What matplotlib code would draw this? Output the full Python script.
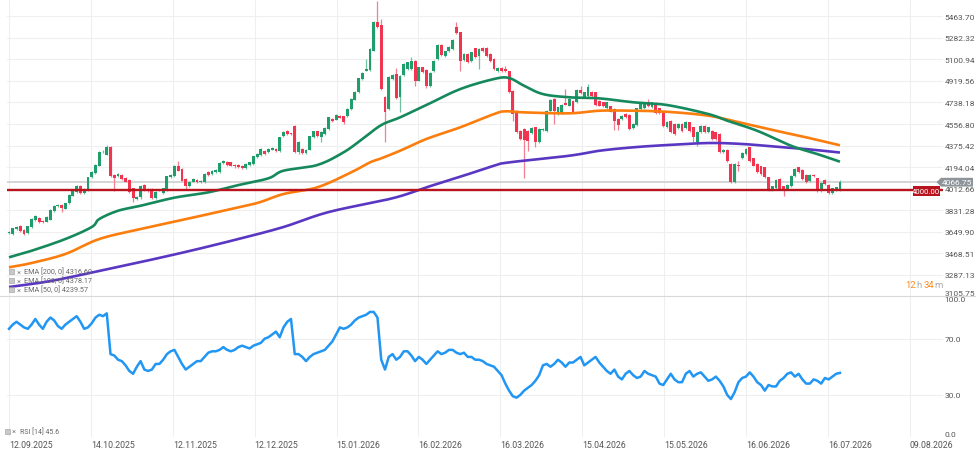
import matplotlib
matplotlib.use('Agg')
import matplotlib.pyplot as plt
import numpy as np
from matplotlib.patches import Polygon, Rectangle
from matplotlib.lines import Line2D

plt.rcParams['font.family'] = ['Roboto', 'DejaVu Sans']

# ---------------- data ----------------
opens = [3640, 3635, 3675, 3695, 3668, 3636, 3690, 3745, 3770, 3743,
         3735, 3749, 3827, 3868, 3875, 3845, 3889, 3954, 3982, 4038,
         3976, 4000, 4108, 4144, 4206, 4318, 4300, 4360, 4127, 4122,
         4127, 4100, 4088, 4015, 3925, 3939, 4043, 4010, 4010, 3931,
         4006, 3976, 3996, 4108, 4122, 4206, 4178, 4094, 4032, 4071,
         4088, 4066, 4066, 4150, 4136, 4150, 4150, 4228, 4240, 4234,
         4212, 4212, 4206, 4184, 4212, 4220, 4276, 4296, 4332, 4318,
         4340, 4346, 4332, 4453, 4500, 4478, 4543, 4324, 4346, 4313,
         4341, 4445, 4495, 4445, 4473, 4515, 4599, 4593, 4627, 4621,
         4621, 4683, 4762, 4829, 4936, 5006, 5011, 5174, 5418, 5390,
         4781, 4683, 4936, 4978, 4781, 4969, 5020, 5020, 5090, 4922,
         5034, 5011, 4873, 5000, 5104, 5224, 5132, 5168, 5188, 5376,
         5328, 5096, 5150, 5084, 5193, 5132, 5196, 5196, 5150, 5104,
         5000, 5028, 5020, 5000, 4837, 4669, 4500, 4514, 4500, 4478,
         4528, 4402, 4505, 4500, 4669, 4767, 4641, 4646, 4730, 4711,
         4753, 4739, 4846, 4781, 4790, 4829, 4823, 4753, 4739, 4689,
         4706, 4683, 4599, 4599, 4641, 4633, 4520, 4548, 4683, 4689,
         4739, 4697, 4734, 4689, 4661, 4529, 4585, 4557, 4520, 4557,
         4520, 4571, 4529, 4402, 4487, 4543, 4487, 4500, 4487, 4473,
         4323, 4341, 4220, 4066, 4212, 4268, 4304, 4360, 4268, 4220,
         4200, 4192, 4108, 4004, 4015, 4094, 4032, 4010, 4032, 4122,
         4192, 4172, 4127, 4080, 4127, 4099, 3996, 4088, 4043, 3976,
         4004, 4004]
highs = [3660, 3685, 3700, 3705, 3675, 3700, 3765, 3790, 3775, 3750,
         3785, 3840, 3875, 3885, 3880, 3895, 3965, 4000, 4045, 4045,
         4015, 4112, 4158, 4218, 4330, 4340, 4380, 4372, 4135, 4145,
         4135, 4108, 4095, 4020, 3950, 4045, 4050, 4015, 4015, 3990,
         4012, 4020, 4122, 4135, 4212, 4248, 4185, 4100, 4078, 4100,
         4095, 4088, 4142, 4158, 4170, 4178, 4235, 4255, 4248, 4240,
         4218, 4218, 4212, 4226, 4240, 4290, 4310, 4352, 4340, 4352,
         4360, 4352, 4450, 4500, 4510, 4485, 4550, 4410, 4352, 4348,
         4460, 4500, 4500, 4495, 4528, 4620, 4605, 4640, 4633, 4627,
         4690, 4773, 4835, 4948, 4992, 5104, 5195, 5425, 5595, 5440,
         4790, 4958, 4976, 5025, 4970, 5068, 5082, 5118, 5098, 5040,
         5040, 5018, 4992, 5098, 5230, 5232, 5175, 5210, 5270, 5412,
         5335, 5152, 5158, 5166, 5200, 5195, 5203, 5203, 5158, 5112,
         5035, 5035, 5045, 5006, 4845, 4675, 4508, 4520, 4508, 4530,
         4535, 4520, 4523, 4675, 4765, 4773, 4703, 4726, 4851, 4773,
         4760, 4852, 4874, 4830, 4894, 4835, 4830, 4760, 4745, 4745,
         4712, 4690, 4605, 4633, 4648, 4640, 4563, 4695, 4740, 4745,
         4767, 4745, 4740, 4695, 4668, 4582, 4592, 4563, 4563, 4563,
         4582, 4578, 4535, 4500, 4550, 4550, 4536, 4506, 4494, 4480,
         4348, 4348, 4226, 4226, 4248, 4320, 4352, 4366, 4275, 4226,
         4206, 4198, 4114, 4038, 4094, 4100, 4038, 4050, 4128, 4185,
         4198, 4178, 4134, 4134, 4134, 4106, 4066, 4094, 4050, 4022,
         4030, 4085]
lows = [3630, 3625, 3668, 3650, 3625, 3630, 3685, 3740, 3720, 3725,
        3730, 3745, 3820, 3860, 3820, 3840, 3885, 3950, 3975, 3970,
        3965, 3995, 4100, 4140, 4200, 4310, 4295, 4115, 3996, 4110,
        4088, 4065, 3975, 3897, 3915, 3930, 3990, 3985, 3925, 3925,
        3995, 3970, 3990, 4100, 4115, 4158, 4075, 4010, 4025, 4065,
        4060, 4060, 4060, 4120, 4130, 4145, 4145, 4220, 4205, 4200,
        4185, 4186, 4178, 4178, 4205, 4215, 4270, 4290, 4298, 4310,
        4335, 4320, 4325, 4445, 4465, 4465, 4310, 4304, 4305, 4305,
        4335, 4440, 4448, 4408, 4468, 4510, 4575, 4588, 4605, 4560,
        4615, 4678, 4755, 4822, 4930, 5000, 5005, 5168, 5365, 4845,
        4402, 4675, 4930, 4765, 4655, 4962, 5014, 5014, 4879, 4915,
        4990, 4860, 4866, 4992, 5098, 5132, 5125, 5160, 5180, 5312,
        5000, 5090, 5068, 5078, 5110, 5020, 5160, 5125, 5082, 5012,
        4992, 4998, 4992, 4815, 4580, 4480, 4422, 4102, 4332, 4470,
        4360, 4395, 4498, 4493, 4660, 4557, 4635, 4640, 4713, 4705,
        4648, 4732, 4810, 4775, 4783, 4788, 4710, 4705, 4700, 4683,
        4655, 4509, 4509, 4592, 4606, 4508, 4513, 4540, 4677, 4683,
        4700, 4690, 4643, 4643, 4536, 4522, 4480, 4466, 4513, 4494,
        4513, 4494, 4408, 4374, 4480, 4480, 4480, 4423, 4423, 4310,
        4310, 4240, 4058, 4058, 4164, 4262, 4298, 4240, 4200, 4143,
        4129, 4100, 3990, 3997, 4008, 4003, 3948, 4003, 4025, 4115,
        4148, 4087, 4059, 4073, 4109, 3989, 3989, 4045, 3965, 3965,
        3997, 3997]
closes = [3650, 3678, 3690, 3660, 3635, 3695, 3757, 3780, 3729, 3735,
          3777, 3833, 3869, 3878, 3852, 3889, 3959, 3996, 4038, 3976,
          4010, 4108, 4150, 4212, 4324, 4322, 4360, 4122, 4100, 4136,
          4094, 4071, 3982, 3931, 3939, 4038, 3996, 3996, 3931, 3982,
          4000, 4015, 4116, 4127, 4206, 4164, 4080, 4038, 4071, 4094,
          4066, 4080, 4136, 4127, 4164, 4170, 4228, 4248, 4212, 4206,
          4200, 4192, 4184, 4220, 4234, 4285, 4304, 4346, 4304, 4346,
          4352, 4327, 4444, 4492, 4473, 4470, 4318, 4402, 4313, 4341,
          4453, 4495, 4453, 4487, 4520, 4613, 4580, 4633, 4610, 4576,
          4683, 4767, 4829, 4941, 4986, 5020, 5188, 5418, 5370, 4851,
          4655, 4950, 4969, 4773, 4964, 5062, 5076, 5090, 4922, 5034,
          4997, 4879, 4986, 5090, 5224, 5140, 5168, 5202, 5264, 5320,
          5090, 5146, 5076, 5160, 5118, 5188, 5168, 5132, 5090, 5020,
          5028, 5006, 5000, 4823, 4641, 4487, 4430, 4422, 4416, 4522,
          4402, 4514, 4517, 4669, 4758, 4669, 4697, 4720, 4720, 4767,
          4655, 4846, 4818, 4823, 4866, 4795, 4717, 4711, 4706, 4739,
          4661, 4585, 4548, 4627, 4613, 4515, 4557, 4689, 4734, 4739,
          4706, 4739, 4650, 4650, 4543, 4576, 4487, 4473, 4557, 4501,
          4576, 4501, 4445, 4492, 4543, 4487, 4529, 4430, 4430, 4318,
          4341, 4248, 4066, 4220, 4200, 4313, 4346, 4248, 4206, 4150,
          4136, 4108, 4004, 4032, 4088, 4010, 3996, 4043, 4122, 4178,
          4155, 4094, 4066, 4127, 4116, 3996, 4060, 4052, 3976, 4015,
          4024, 4066.75]

rsi = [77, 80, 82, 80, 78, 77, 80, 84, 80, 77,
       82, 85, 83, 79, 77, 80, 82, 84, 86, 82,
       77, 78, 81, 85, 87, 86, 88, 59, 58, 55,
       54, 51, 47, 45, 50, 54, 48, 47, 48, 52,
       52, 55, 59, 61, 62, 57, 52, 48, 50, 52,
       54, 54, 57, 60, 61, 61, 62, 64, 62, 61,
       62, 64, 65, 64, 63, 65, 66, 67, 70, 71,
       73, 75, 71, 78, 82, 84, 59, 59, 57, 54,
       57, 59, 60, 61, 62, 65, 68, 73, 78, 77,
       78, 80, 83, 85, 86, 87, 89, 89, 85, 55,
       48, 57, 59, 55, 57, 61, 61, 58, 54, 57,
       55, 52, 55, 58, 61, 59, 60, 62, 62, 60,
       59, 60, 57, 57, 55, 55, 54, 52, 51, 50,
       47, 44, 38, 33, 29, 28, 30, 33, 35, 37,
       40, 44, 51, 52, 50, 52, 55, 53, 50, 53,
       53, 55, 57, 51, 53, 55, 57, 53, 50, 47,
       45, 48, 43, 41, 45, 47, 44, 42, 43, 47,
       45, 44, 43, 38, 37, 41, 45, 41, 39, 39,
       45, 47, 43, 45, 46, 43, 40, 41, 43, 40,
       36, 30, 27, 32, 39, 42, 43, 46, 43, 39,
       37, 33, 37, 36, 36, 40, 42, 45, 46, 43,
       45, 41, 38, 38, 41, 40, 38, 42, 41, 43,
       45, 45.6]

# EMA values read at candle indices
ema50_at = [0, 6, 15, 22, 24, 29, 35, 44, 53, 61, 69, 73, 82, 89, 94, 99, 104,
            111, 120, 129, 133, 137, 142, 149, 157, 166, 175, 186, 191, 199, 208, 215, 221]
ema50 = [3435, 3490, 3589, 3690, 3757, 3827, 3869, 3937, 3982, 4043, 4100, 4164,
         4212, 4319, 4431, 4548, 4613, 4717, 4851, 4936, 4944, 4879, 4809, 4782,
         4773, 4740, 4717, 4641, 4585, 4500, 4374, 4304, 4240]
ema100_at = [0, 6, 15, 24, 35, 48, 57, 66, 73, 82, 91, 96, 99, 104, 111, 120, 129,
             132, 137, 149, 157, 166, 175, 186, 195, 204, 212, 221]
ema100 = [3351, 3387, 3463, 3589, 3673, 3763, 3827, 3892, 3968, 4024, 4150, 4234,
          4268, 4332, 4431, 4529, 4641, 4664, 4655, 4647, 4669, 4669, 4660, 4627,
          4565, 4500, 4445, 4378]
ema200_at = [0, 11, 24, 35, 48, 61, 73, 85, 102, 111, 120, 129, 133, 149, 157, 166,
             175, 186, 195, 204, 212, 221]
ema200 = [3185, 3235, 3320, 3395, 3488, 3589, 3690, 3816, 3932, 4024, 4113, 4206,
          4234, 4290, 4332, 4361, 4380, 4397, 4389, 4366, 4346, 4317]

price_ticks = [5463.70, 5282.32, 5100.94, 4919.56, 4738.18, 4556.80, 4375.42,
               4194.04, 4012.66, 3831.28, 3649.90, 3468.51, 3287.13, 3105.75]
rsi_ticks = [100.0, 70.0, 30.0, 0.0]
date_labels = ['12.09.2025', '14.10.2025', '12.11.2025', '12.12.2025', '15.01.2026',
               '16.02.2026', '16.03.2026', '15.04.2026', '15.05.2026', '16.06.2026',
               '16.07.2026', '09.08.2026']
support_level = 4000.0
legend_labels = ['EMA [200, 0] 4316.60', 'EMA [100, 0] 4378.17', 'EMA [50, 0] 4239.57']
rsi_label = 'RSI [14] 45.6'


def smooth_curve(xs, ys, per=12):
    """Catmull-Rom rendering of a line through the read points."""
    xs = np.asarray(xs, float); ys = np.asarray(ys, float)
    P = np.column_stack([xs, ys])
    P = np.vstack([2 * P[0] - P[1], P, 2 * P[-1] - P[-2]])
    out = []
    t = np.linspace(0, 1, per, endpoint=False)[:, None]
    for i in range(1, len(P) - 2):
        p0, p1, p2, p3 = P[i - 1], P[i], P[i + 1], P[i + 2]
        seg = 0.5 * ((2 * p1) + (-p0 + p2) * t + (2 * p0 - 5 * p1 + 4 * p2 - p3) * t ** 2
                     + (-p0 + 3 * p1 - 3 * p2 + p3) * t ** 3)
        out.append(seg)
    out.append(P[-2][None, :])
    out = np.vstack(out)
    return out[:, 0], out[:, 1]


# ---------------- drawing ----------------
W, H = 977, 456
fig = plt.figure(figsize=(W / 100, H / 100), dpi=100)
fig.patch.set_facecolor('white')


def fy(py):
    return 1 - py / H


AX_L, AX_R = 7, 943
MAIN_BOT, RSI_BOT = 297.5, 438
ax = fig.add_axes([AX_L / W, fy(MAIN_BOT), (AX_R - AX_L) / W, MAIN_BOT / H])
ax2 = fig.add_axes([AX_L / W, fy(RSI_BOT), (AX_R - AX_L) / W, (RSI_BOT - MAIN_BOT) / H])

N = len(closes)
step = 3.76  # pixels per candle
xlo = (AX_L - 9) / step
xhi = (AX_R - 9) / step
x = np.arange(N)
o = np.array(opens, float); c = np.array(closes, float)
h = np.array(highs, float); l = np.array(lows, float)

GREEN = '#1f9e6c'
RED = '#ef3550'
up = c >= o
body_col = np.where(up, GREEN, RED)
wick_col = np.where(up, '#6fc39f', '#f27f91')

ax.vlines(x, l, h, colors=wick_col, lw=0.9, zorder=3)
ax.bar(x, np.maximum(np.abs(c - o), 7), bottom=np.minimum(o, c), width=0.76,
       color=body_col, linewidth=0, zorder=4)

for xs_, ys_, col in ((ema100_at, ema100, '#fb7d0d'),
                      (ema200_at, ema200, '#5a37c2'),
                      (ema50_at, ema50, '#16895c')):
    sx, sy = smooth_curve(xs_, ys_)
    ax.plot(sx, sy, color=col, lw=1.9, zorder=5, solid_capstyle='butt')

ax.axhline(c[-1], color='#d2d2d2', lw=1.3, zorder=2)
ax.axhline(support_level, color='#b8141d', lw=1.7, zorder=6)

tick_pos = [k * 21.78 for k in range(len(date_labels))]
for a in (ax, ax2):
    a.set_xlim(xlo, xhi)
    a.set_facecolor('white')
    for s in a.spines.values():
        s.set_visible(False)
    a.set_xticks(tick_pos)
    a.grid(True, color='#efefef', lw=0.8, zorder=0)
    a.set_axisbelow(True)
    a.tick_params(length=0, labelsize=6.0, labelcolor='#555555')
    a.yaxis.tick_right()

ax.set_ylim(3105.2, 5609.3)
ax.set_yticks(price_ticks)
ax.set_yticklabels([f'{v:.2f}' for v in price_ticks])
ax.tick_params(axis='y', pad=1)
ax.set_xticklabels([])
for lab, v in zip(ax.get_yticklabels(), price_ticks):
    if v == price_ticks[-1]:
        lab.set_verticalalignment('bottom')

ax2.plot(x, rsi, color='#2196f3', lw=1.8, zorder=4)
ax2.set_ylim(0, 100)
ax2.set_yticks(rsi_ticks)
ax2.set_yticklabels([f'{v:.1f}' for v in rsi_ticks])
ax2.tick_params(axis='y', pad=1)
for lab, v in zip(ax2.get_yticklabels(), rsi_ticks):
    if v == 100:
        lab.set_verticalalignment('top')
    elif v == 0:
        lab.set_verticalalignment('bottom')
ax2.yaxis.grid(False)
for v in (70, 30):
    ax2.axhline(v, color='#efefef', lw=0.8, zorder=0)
ax2.set_xticklabels(date_labels, ha='left')
ax2.tick_params(axis='x', pad=2.5, labelsize=6.3)

# panel separator
fig.add_artist(Line2D([0, 975 / W], [fy(297), fy(297)], color='#d9d9d9', lw=0.8))

# support label box
fig.add_artist(Rectangle((912.5 / W, fy(196.5)), 27 / W, 9.5 / H, color='#b8141d', lw=0))
fig.text(926 / W, fy(191.7), '4000.00', color='white', fontsize=5.6, ha='center', va='center')

# last price tag
pts = [(936.5, 183.2), (941, 178.8), (973, 178.8), (973, 187.6), (941, 187.6)]
fig.add_artist(Polygon([(px / W, fy(py)) for px, py in pts], closed=True,
                       color='#8d959b', lw=0))
fig.text(957 / W, fy(183.4), f'{c[-1]:.2f}', color='white', fontsize=6.0,
         ha='center', va='center')

# countdown text
renderer = fig.canvas.get_renderer()
cd = [('12', '#fb8c1f', 0.3), ('h', '#aaaaaa', 2.5), ('34', '#fb8c1f', 0.3), ('m', '#aaaaaa', 0)]
xpos = 905.0
for t, col, gap in cd:
    tx = fig.text(xpos / W, fy(285.5), t, color=col, fontsize=6.8, ha='left', va='center')
    bb = tx.get_window_extent(renderer=renderer)
    xpos += bb.width + gap

# legend of EMAs
for k, txt in enumerate(legend_labels):
    yy = 272.5 + 9 * k
    fig.add_artist(Rectangle((9 / W, fy(yy + 2.5)), 5 / W, 5 / H, facecolor='#c8c8c8',
                             edgecolor='#999999', lw=0.4))
    fig.text(16.5 / W, fy(yy), '×', color='#888888', fontsize=5.5, ha='left', va='center')
    fig.text(24 / W, fy(yy), txt, color='#666666', fontsize=5.2, ha='left', va='center')

# RSI label
fig.add_artist(Rectangle((5 / W, fy(434.5)), 5 / W, 5 / H, facecolor='#c8c8c8',
                         edgecolor='#999999', lw=0.4))
fig.text(12 / W, fy(432), '×', color='#888888', fontsize=5.5, ha='left', va='center')
fig.text(20 / W, fy(432.5), rsi_label, color='#666666', fontsize=5.0, ha='left', va='center')

fig.savefig('out.png', dpi=100, facecolor='white')
